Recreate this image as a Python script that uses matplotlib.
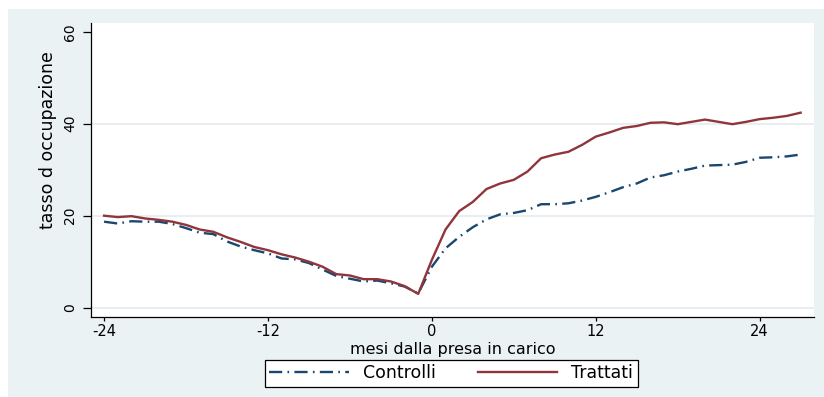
import matplotlib
matplotlib.use('Agg')
import matplotlib.pyplot as plt
from matplotlib.patches import Rectangle

# months relative to take-in-charge
months = list(range(-24, 28))

controlli = [18.7, 18.3, 18.8, 18.7, 18.7, 18.2, 17.3, 16.3, 16.0, 14.4,
             13.3, 12.5, 11.8, 10.7, 10.5, 9.7, 8.3, 6.9, 6.3, 5.7,
             5.9, 5.3, 4.6, 3.1, 8.9, 12.9, 15.4, 17.5, 19.2, 20.3,
             20.6, 21.2, 22.5, 22.5, 22.7, 23.3, 24.1, 25.1, 26.2, 27.0,
             28.3, 28.8, 29.6, 30.2, 30.9, 31.0, 31.1, 31.7, 32.6, 32.7,
             32.9, 33.3]

trattati = [20.0, 19.7, 19.9, 19.4, 19.1, 18.7, 18.0, 17.0, 16.5, 15.3,
            14.3, 13.2, 12.5, 11.6, 10.9, 10.0, 8.9, 7.3, 7.0, 6.2,
            6.2, 5.7, 4.7, 3.0, 10.4, 17.0, 21.0, 23.0, 25.8, 27.0,
            27.8, 29.6, 32.5, 33.3, 33.9, 35.4, 37.2, 38.1, 39.1, 39.5,
            40.2, 40.3, 39.9, 40.4, 40.9, 40.4, 39.9, 40.4, 41.0, 41.3,
            41.7, 42.4]

xticks = [-24, -12, 0, 12, 24]
yticks = [0, 20, 40, 60]

BG = '#eaf2f3'
NAVY = '#1a476f'
MAROON = '#90353b'

plt.rcParams['font.family'] = ['DejaVu Sans']
plt.rcParams['lines.scale_dashes'] = False

fig = plt.figure(figsize=(8.24, 3.97), dpi=100)
fig.patch.set_facecolor('white')
bg = Rectangle((8 / 824, 0), 1 - 8 / 824, 1 - 9 / 397,
               transform=fig.transFigure, facecolor=BG,
               edgecolor='none', zorder=-10)
fig.patches.append(bg)

ax = fig.add_axes([90.7 / 824, 1 - 316.7 / 397, (814 - 90.7) / 824, (316.7 - 23) / 397])
ax.set_zorder(2)
ax.set_facecolor('white')

for v in [0, 20, 40]:
    ax.axhline(v, color='#e1eaee', linewidth=1.1, zorder=1)

ax.plot(months, controlli, color=NAVY, linewidth=1.7, dashes=(9.5, 3.8, 1.2, 3.8),
        label='Controlli', zorder=3)
ax.plot(months, trattati, color=MAROON, linewidth=1.7, label='Trattati', zorder=3)

ax.set_xlim(-24.98, 27.98)
ax.set_ylim(-1.96, 61.9)
ax.set_xticks(xticks)
ax.set_xticklabels([str(t) for t in xticks])
ax.set_yticks(yticks)
ax.set_yticklabels([str(t) for t in yticks], rotation=90, va='center')

for s in ['top', 'right']:
    ax.spines[s].set_visible(False)
for s in ['left', 'bottom']:
    ax.spines[s].set_color('black')
    ax.spines[s].set_linewidth(0.9)

ax.tick_params(axis='x', length=3, width=0.9, pad=2.5, labelsize=10.5)
ax.tick_params(axis='y', length=5.8, width=0.9, pad=4, labelsize=10)

fig.text(452.5 / 824, 1 - 354 / 397, 'mesi dalla presa in carico',
         ha='center', va='baseline', fontsize=11.5)
fig.text(48 / 824, 1 - 140 / 397, 'tasso d occupazione', rotation=90,
         ha='center', va='center', fontsize=12.5)

leg = fig.legend(loc='lower left', bbox_to_anchor=(265 / 824, 1 - 386.7 / 397),
                 ncol=2, fontsize=12.5, frameon=True, fancybox=False,
                 handlelength=4.6, handletextpad=0.8, columnspacing=2.4,
                 borderpad=0.25, borderaxespad=0)
leg.set_zorder(3)
leg.get_frame().set_edgecolor('black')
leg.get_frame().set_linewidth(0.9)
leg.get_frame().set_facecolor('white')
leg.get_frame().set_alpha(1)

fig.savefig('out.png', dpi=100, facecolor=fig.get_facecolor())
